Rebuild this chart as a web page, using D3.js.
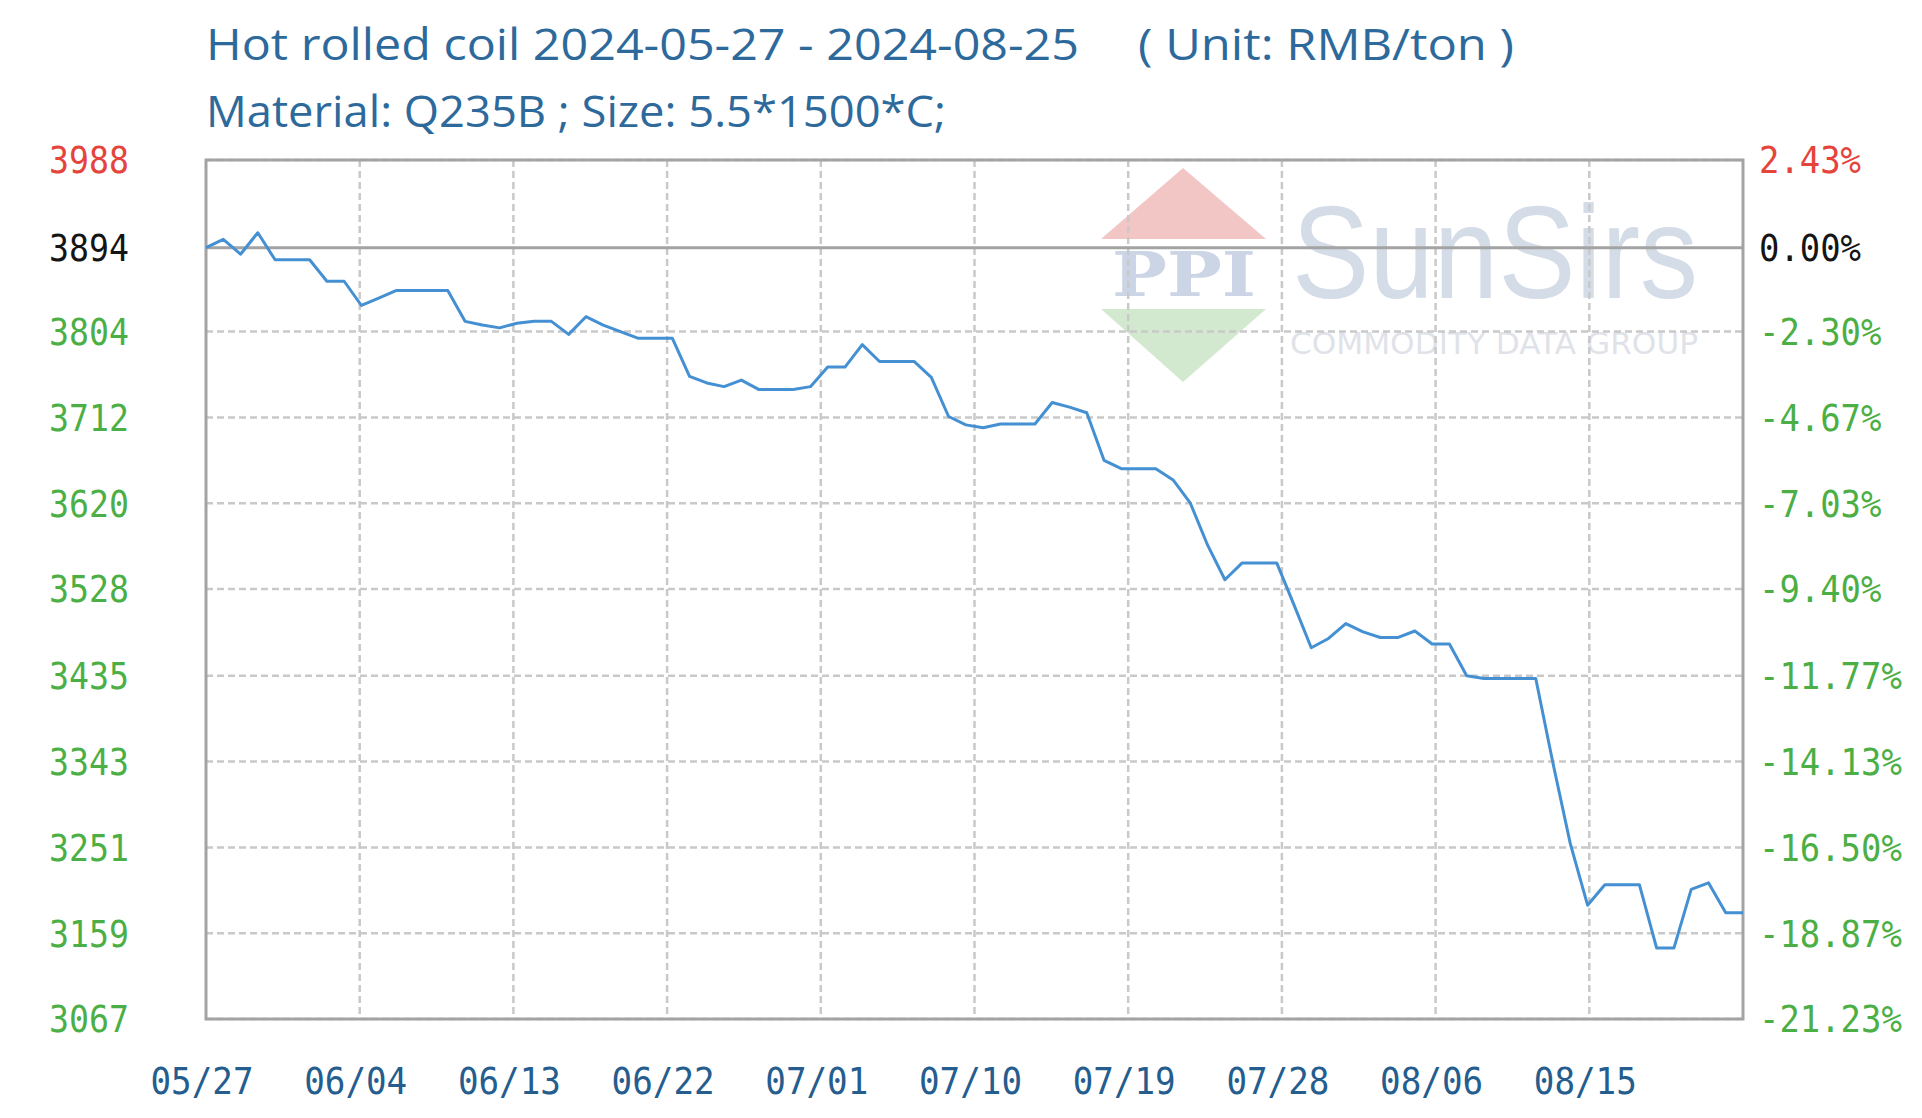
<!DOCTYPE html>
<html><head><meta charset="utf-8">
<script src="https://cdn.jsdelivr.net/npm/d3@7"></script>
<style>html,body{margin:0;padding:0;background:#fff;overflow:hidden}svg{display:block}</style>
</head><body>
<svg id="chart" width="1922" height="1118"></svg>
<script>
// ---- data ----
const titleLine1 = "Hot rolled coil 2024-05-27 - 2024-08-25";
const titleUnit = "( Unit: RMB/ton )";
const titleLine2 = "Material: Q235B ; Size: 5.5*1500*C;";
const xTickLabels = ["05/27","06/04","06/13","06/22","07/01","07/10","07/19","07/28","08/06","08/15"];
const yTickValues = [3988,3894,3804,3712,3620,3528,3435,3343,3251,3159,3067];
const pctTickLabels = ["2.43%","0.00%","-2.30%","-4.67%","-7.03%","-9.40%","-11.77%","-14.13%","-16.50%","-18.87%","-21.23%"];
const baseValue = 3894;
const prices = [
  3894,3903,3887,3910,3881,3881,3881,3858,3858,3832,
  3840,3848,3848,3848,3848,3815,3811,3808,3813,3815,
  3815,3801,3820,3811,3804,3797,3797,3797,3756,3749,
  3745,3752,3742,3742,3742,3745,3766,3766,3790,3772,
  3772,3772,3755,3713,3704,3701,3705,3705,3705,3728,
  3723,3717,3666,3657,3657,3657,3645,3620,3575,3538,
  3556,3556,3556,3511,3465,3475,3491,3482,3476,3476,
  3483,3469,3469,3435,3432,3432,3432,3432,3341,3255,
  3189,3211,3211,3211,3143,3143,3206,3213,3181,3181
];

// ---- layout ----
const L = 206, R = 1743, T = 160, B = 1019;
const svg = d3.select("#chart");
const x = d3.scaleLinear().domain([0, prices.length - 1]).range([L, R]);
const y = d3.scaleLinear().domain([3067, 3988]).range([B, T]);
const nDiv = 10;
const xTickPos = d3.range(nDiv + 1).map(k => k * (prices.length - 1) / nDiv);

const titleColor = "#2d6a9b";
const red = "#e5443d", green = "#4caf45", black = "#151515";
const labelColor = v => v > baseValue ? red : (v === baseValue ? black : green);
const mono = "'DejaVu Sans Mono', 'Liberation Mono', monospace";

// ---- watermark ----
const wm = svg.append("g");
wm.append("polygon").attr("points", "1101,239 1266,239 1183,168").attr("fill", "#f3c6c6");
wm.append("polygon").attr("points", "1101,309 1266,309 1183,382").attr("fill", "#d3e9cf");
wm.append("text").attr("x", 1112).attr("y", 296).text("PPI")
  .attr("font-family", "'DejaVu Serif', serif").attr("font-weight", "bold").attr("font-size", 62)
  .attr("fill", "#ccd5e5").attr("textLength", 144).attr("lengthAdjust", "spacingAndGlyphs");
wm.append("g").attr("transform", "translate(1292,298) scale(1,1.13)")
  .append("text").attr("x", 0).attr("y", 0).text("SunSirs")
  .attr("font-family", "'Liberation Sans', Arial, sans-serif").attr("font-size", 116)
  .attr("fill", "#d4dce7").attr("textLength", 406).attr("lengthAdjust", "spacingAndGlyphs");
wm.append("text").attr("x", 1290).attr("y", 354).text("COMMODITY DATA GROUP")
  .attr("font-family", "'DejaVu Sans', sans-serif").attr("font-size", 30)
  .attr("fill", "#dfe3e9").attr("textLength", 408).attr("lengthAdjust", "spacingAndGlyphs");

// ---- grid ----
const grid = svg.append("g").attr("stroke", "#c9c9c9").attr("stroke-width", 2.5).attr("stroke-dasharray", "7,4");
grid.selectAll("line.h").data(yTickValues.filter(v => v !== baseValue)).join("line")
  .attr("x1", L).attr("x2", R).attr("y1", d => y(d)).attr("y2", d => y(d));
grid.selectAll("line.v").data(xTickPos.slice(1, -1)).join("line")
  .attr("x1", d => x(d)).attr("x2", d => x(d)).attr("y1", T).attr("y2", B);

// ---- frame and baseline ----
svg.append("rect").attr("x", L).attr("y", T).attr("width", R - L).attr("height", B - T)
  .attr("fill", "none").attr("stroke", "#a3a3a3").attr("stroke-width", 3);
svg.append("line").attr("x1", L).attr("x2", R).attr("y1", y(baseValue)).attr("y2", y(baseValue))
  .attr("stroke", "#a3a3a3").attr("stroke-width", 3);

// ---- line ----
svg.append("path").datum(prices)
  .attr("d", d3.line().x((d, i) => x(i)).y(d => y(d)))
  .attr("fill", "none").attr("stroke", "#4490d2").attr("stroke-width", 3).attr("stroke-linejoin", "round");

// ---- left axis labels ----
svg.append("g").selectAll("text").data(yTickValues).join("text")
  .attr("x", 129).attr("y", d => y(d)).attr("dy", "0.36em").attr("text-anchor", "end")
  .attr("font-family", mono).attr("font-size", 37)
  .attr("textLength", d => String(d).length * 20).attr("lengthAdjust", "spacingAndGlyphs")
  .attr("fill", d => labelColor(d)).text(d => d);

// ---- right axis labels ----
svg.append("g").selectAll("text").data(yTickValues).join("text")
  .attr("x", 1759).attr("y", d => y(d)).attr("dy", "0.36em")
  .attr("font-family", mono).attr("font-size", 37)
  .attr("textLength", (d, i) => pctTickLabels[i].length * 20.4).attr("lengthAdjust", "spacingAndGlyphs")
  .attr("fill", d => labelColor(d)).text((d, i) => pctTickLabels[i]);

// ---- x axis labels ----
svg.append("g").selectAll("text").data(xTickLabels).join("text")
  .attr("x", (d, i) => x(xTickPos[i]) - 4).attr("y", 1081).attr("dy", "0.36em").attr("text-anchor", "middle")
  .attr("font-family", mono).attr("font-size", 37)
  .attr("textLength", d => d.length * 20.6).attr("lengthAdjust", "spacingAndGlyphs")
  .attr("fill", "#245d8e").text(d => d);

// ---- titles ----
const tf = "'Open Sans', 'Noto Sans', sans-serif";
svg.append("text").attr("x", 206).attr("y", 60).text(titleLine1)
  .attr("font-family", tf).attr("font-size", 44).attr("fill", titleColor)
  .attr("textLength", 873).attr("lengthAdjust", "spacingAndGlyphs");
svg.append("text").attr("x", 1138).attr("y", 60).text(titleUnit)
  .attr("font-family", tf).attr("font-size", 44).attr("fill", titleColor)
  .attr("textLength", 376).attr("lengthAdjust", "spacingAndGlyphs");
svg.append("text").attr("x", 206).attr("y", 127).text(titleLine2)
  .attr("font-family", tf).attr("font-size", 44).attr("fill", titleColor)
  .attr("textLength", 740).attr("lengthAdjust", "spacingAndGlyphs");
</script>
</body></html>
